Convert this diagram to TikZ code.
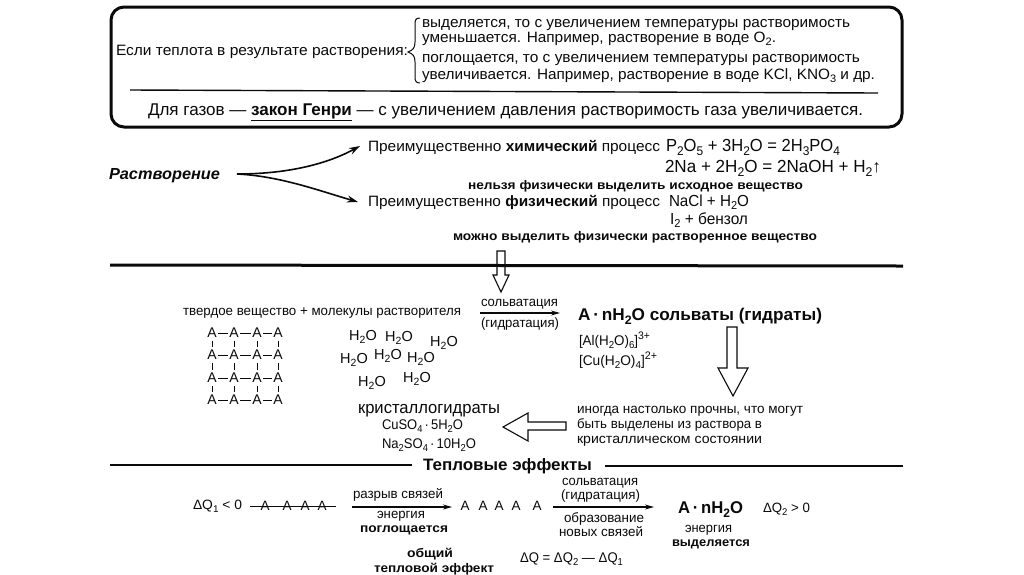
\documentclass[tikz,border=0pt]{standalone}
\usepackage{graphicx}
\usepackage{fontspec}
\setmainfont{Liberation Sans}
\usetikzlibrary{arrows.meta}
\newcommand\fw[3]{\resizebox{#1pt}{\height}{\fontsize{#2pt}{#2pt}\selectfont #3}}
\newcommand\dn[1]{\raisebox{-0.45ex}{\scalebox{0.72}{#1}}}
\newcommand\upx[1]{\raisebox{0.75ex}{\scalebox{0.78}{#1}}}
\definecolor{ink}{RGB}{10,10,10}
\tikzset{
  tx/.style={anchor=base west,inner sep=0pt,outer sep=0pt,text=ink},
  atom/.style={anchor=center,inner sep=0pt,text=ink,font=\fontsize{14pt}{14pt}\selectfont},
  wat/.style={anchor=center,inner sep=0pt,text=ink,font=\fontsize{14.5pt}{14.5pt}\selectfont},
  bond/.style={draw=ink,line width=1pt,shorten <=1.6pt,shorten >=1.6pt},
  tick/.style={draw=ink,line width=1pt,shorten <=2.6pt,shorten >=2.6pt},
  rule/.style={draw=ink,line width=1.4pt},
  heavy/.style={draw=ink,line width=3pt},
  flow/.style={draw=ink,line width=1.6pt,-{Stealth[length=11pt,width=7pt]}},
  thin arrow/.style={draw=ink,line width=1.1pt,-{Stealth[length=9pt,width=5pt]}},
  hollow/.style={draw=ink,line width=1.1pt,line join=miter,fill=none},
}
\begin{document}
\begin{tikzpicture}[x=1pt,y=-1pt]
\useasboundingbox (0,0) rectangle (1024,574);
\fill[white] (0,0) rectangle (1024,574);
% top box
\node[draw=ink,line width=3pt,rounded corners=13pt,minimum width=791pt,minimum height=120pt,inner sep=0pt] (box) at (506.5,67) {};
\node[tx] (ifheat) at (116,55) {\fw{292}{15}{Если теплота в результате растворения:}};
\draw[ink,line width=1pt] (420,18) .. controls (415,18) and (415,21) .. (415,25) -- (415,42) .. controls (415,48) and (413,50) .. (408,52) .. controls (413,54) and (415,56) .. (415,62) -- (415,77) .. controls (415,81) and (416,83) .. (420,83);
\node[tx] (l1) at (422,27) {\fw{428}{15}{выделяется, то с увеличением температуры растворимость}};
\node[tx] (l2) at (422,42) {\fw{354}{15}{уменьшается. Например, растворение в воде O\dn{2}.}};
\node[tx] (l3) at (422,62) {\fw{438}{15}{поглощается, то с увеличением температуры растворимость}};
\node[tx] (l4) at (422,79) {\fw{453}{15}{увеличивается. Например, растворение в воде KCl, KNO\dn{3} и др.}};
\coordinate (ruleL) at (130,90);
\coordinate (ruleR) at (878,93);
\draw[rule] (ruleL) -- (ruleR);
\node[tx] (genry) at (148,115) {\fw{715}{17}{Для газов — \underline{\textbf{закон Генри}} — с увеличением давления растворимость газа увеличивается.}};
% dissolution
\node[tx] (rast) at (109,179) {\fw{111}{16}{\textbf{\itshape Растворение}}};
\coordinate (fork) at (237,174);
\coordinate (upEnd) at (360,146);
\coordinate (loEnd) at (358,202);
\draw[flow] (fork) .. controls (285,174) and (325,165) .. (upEnd);
\draw[flow] (fork) .. controls (280,176) and (320,191) .. (loEnd);
\node[tx] (chem) at (368,151) {\fw{292}{15}{Преимущественно \textbf{химический} процесс}};
\node[tx] (f1) at (666,151) {\fw{174}{17.5}{P\dn{2}O\dn{5} + 3H\dn{2}O = 2H\dn{3}PO\dn{4}}};
\node[tx] (f2) at (665,172) {\fw{216}{17.5}{2Na + 2H\dn{2}O = 2NaOH + H\dn{2}↑}};
\node[tx] (no) at (468,189) {\fw{335}{12.5}{\textbf{нельзя физически выделить исходное вещество}}};
\node[tx] (phys) at (368,206) {\fw{292}{15}{Преимущественно \textbf{физический} процесс}};
\node[tx] (f3) at (669,206) {\fw{80}{16}{NaCl + H\dn{2}O}};
\node[tx] (f4) at (670,224) {\fw{78}{16}{I\dn{2} + бензол}};
\node[tx] (can) at (453,240) {\fw{364}{12.5}{\textbf{можно выделить физически растворенное вещество}}};
\coordinate (h1L) at (110,265);
\coordinate (h1R) at (903,266);
\draw[heavy] (h1L) -- (h1R);
\draw[hollow] (497,251) -- (505,251) -- (505,275) -- (509,275) -- (501,292) -- (493,275) -- (497,275) -- cycle;
% solvation
\node[tx] (solid) at (183,315) {\fw{278}{13.5}{твердое вещество + молекулы растворителя}};
\foreach \r/\y in {1/333,2/355,3/378,4/400}{
  \foreach \c/\x in {1/212,2/234,3/257,4/278}{
    \node[atom] (a\r\c) at (\x,\y) {A};
  }
}
\foreach \r in {1,2,3,4}{
  \draw[bond] (a\r1) -- (a\r2);
  \draw[bond] (a\r2) -- (a\r3);
  \draw[bond] (a\r3) -- (a\r4);
}
\foreach \c in {1,2,3,4}{
  \draw[tick] (a1\c) -- (a2\c);
  \draw[tick] (a2\c) -- (a3\c);
  \draw[tick] (a3\c) -- (a4\c);
}
\node[wat] (w1) at (363,337) {H\dn{2}O};
\node[wat] (w2) at (399,338) {H\dn{2}O};
\node[wat] (w3) at (444,343) {H\dn{2}O};
\node[wat] (w4) at (354,360) {H\dn{2}O};
\node[wat] (w5) at (388,356) {H\dn{2}O};
\node[wat] (w6) at (421,359) {H\dn{2}O};
\node[wat] (w7) at (372,383) {H\dn{2}O};
\node[wat] (w8) at (417,379) {H\dn{2}O};
\node[tx] (s1) at (481,306) {\fw{77}{13.5}{сольватация}};
\coordinate (s1L) at (480,313);
\coordinate (s1R) at (560,313);
\draw[thin arrow] (s1L) -- (s1R);
\node[tx] (s2) at (481,327) {\fw{78}{13.5}{(гидратация)}};
\node[tx] (solv) at (578,320) {\fw{244}{17}{\textbf{A\,·\,nH\dn{2}O сольваты (гидраты)}}};
\node[tx] (al) at (579,345) {\fw{71}{14}{[Al(H\dn{2}O)\dn{6}]\upx{3+}}};
\node[tx] (cu) at (579,365) {\fw{78}{14}{[Cu(H\dn{2}O)\dn{4}]\upx{2+}}};
\draw[hollow] (727,327) -- (737,327) -- (737,368) -- (748,368) -- (733,396) -- (718,368) -- (727,368) -- cycle;
\node[tx] (n1) at (577,413) {\fw{226}{13.5}{иногда настолько прочны, что могут}};
\node[tx] (n2) at (577,428) {\fw{185}{13.5}{быть выделены из раствора в}};
\node[tx] (n3) at (577,443) {\fw{185}{13.5}{кристаллическом состоянии}};
\draw[hollow] (566,422) -- (528,422) -- (528,413) -- (503,427) -- (528,441) -- (528,430) -- (566,430) -- cycle;
\node[tx] (kg) at (358,413) {\fw{142}{17}{кристаллогидраты}};
\node[tx] (kg1) at (382,429) {\fw{81}{14}{CuSO\dn{4}\,·\,5H\dn{2}O}};
\node[tx] (kg2) at (382,448) {\fw{94}{14}{Na\dn{2}SO\dn{4}\,·\,10H\dn{2}O}};
% thermal effects
\node[tx] (te) at (423,470) {\fw{169}{16.5}{\textbf{Тепловые эффекты}}};
\coordinate (h2L) at (110,465);
\coordinate (h2M) at (412,465);
\coordinate (h2N) at (605,466);
\coordinate (h2R) at (903,466);
\draw[rule,line width=1.6pt] (h2L) -- (h2M);
\draw[rule,line width=1.6pt] (h2N) -- (h2R);
\node[tx] (dq1) at (193,509) {\fw{49}{13.5}{ΔQ\dn{1} < 0}};
\foreach \i/\x in {1/265,2/287,3/305,4/322}{
  \node[tx,anchor=base] (b\i) at (\x,510) {\fontsize{13.5pt}{13.5pt}\selectfont A};
}
\coordinate (stL) at (250,506);
\coordinate (stR) at (336,506);
\draw[ink,line width=1pt] (stL) -- (stR);
\node[tx] (r1) at (353,498) {\fw{90}{13.5}{разрыв связей}};
\coordinate (r1L) at (352,507);
\coordinate (r1R) at (452,507);
\draw[thin arrow] (r1L) -- (r1R);
\node[tx] (r2) at (377,518) {\fw{48}{13.5}{энергия}};
\node[tx] (r3) at (360,532) {\fw{88}{12.5}{\textbf{поглощается}}};
\node[tx] (o1) at (407,557) {\fw{46}{12.5}{\textbf{общий}}};
\node[tx] (o2) at (374,572) {\fw{120}{12.5}{\textbf{тепловой эффект}}};
\foreach \i/\x in {1/465,2/483,3/499,4/516,5/537}{
  \node[tx,anchor=base] (c\i) at (\x,510) {\fontsize{13.5pt}{13.5pt}\selectfont A};
}
\node[tx] (t1) at (562,485) {\fw{76}{13.5}{сольватация}};
\node[tx] (t2) at (561,499) {\fw{79}{13.5}{(гидратация)}};
\coordinate (t1L) at (553,507);
\coordinate (t1R) at (654,507);
\draw[thin arrow] (t1L) -- (t1R);
\node[tx] (t3) at (564,522) {\fw{80}{13.5}{образование}};
\node[tx] (t4) at (559,536) {\fw{84}{13.5}{новых связей}};
\node[tx] (an) at (678,513) {\fw{65}{17}{\textbf{A\,·\,nH\dn{2}O}}};
\node[tx] (dq2) at (763,512) {\fw{47}{13.5}{ΔQ\dn{2} > 0}};
\node[tx] (e1) at (685,532) {\fw{47}{13.5}{энергия}};
\node[tx] (e2) at (672,546) {\fw{78}{12.5}{\textbf{выделяется}}};
\node[tx] (dq) at (520,562) {\fw{103}{14}{ΔQ = ΔQ\dn{2} — ΔQ\dn{1}}};
\end{tikzpicture}
\end{document}
